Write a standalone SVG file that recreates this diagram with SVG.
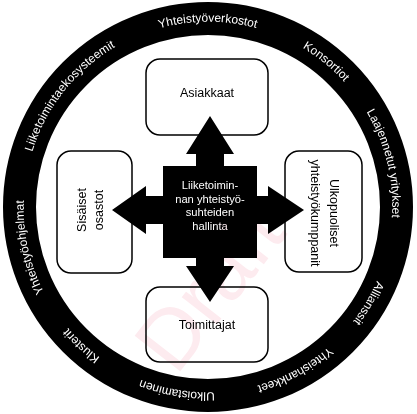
<svg xmlns="http://www.w3.org/2000/svg" width="417" height="414" viewBox="0 0 417 414">
<style>
.ring-t{font-family:"Liberation Sans",Arial,sans-serif;font-size:12px;fill:#fff;}
.box{fill:none;stroke:#000;stroke-width:1.5;}
.lbl{font-family:"Liberation Sans",Arial,sans-serif;font-size:12.5px;fill:#000;text-anchor:middle;}
.ctr{font-family:"Liberation Sans",Arial,sans-serif;font-size:11.2px;fill:#fff;text-anchor:middle;}
.wm{font-family:"Liberation Sans",Arial,sans-serif;font-size:84px;fill:#fdebef;text-anchor:middle;mix-blend-mode:multiply;}
</style>
<defs>
<path id="circ" d="M389.2,238.95 A184,184 0 1,1 26.8,175.05 A184,184 0 1,1 389.2,238.95"/>
</defs>
<rect width="417" height="414" fill="#fff"/>
<g id="ring">
<circle cx="208" cy="207" r="188.5" fill="none" stroke="#000" stroke-width="33"/>
<text class="ring-t" text-anchor="middle"><textPath href="#circ" startOffset="67.4">Allianssit</textPath></text>
<text class="ring-t" text-anchor="middle"><textPath href="#circ" startOffset="167">Yhteishankkeet</textPath></text>
<text class="ring-t" text-anchor="middle"><textPath href="#circ" startOffset="289">Ulkoistaminen</textPath></text>
<text class="ring-t" text-anchor="middle"><textPath href="#circ" startOffset="395">Klusterit</textPath></text>
<text class="ring-t" text-anchor="middle"><textPath href="#circ" startOffset="507.4">Yhteistyöohjelmat</textPath></text>
<text class="ring-t" text-anchor="middle"><textPath href="#circ" startOffset="672.8">Liiketoimintaekosysteemit</textPath></text>
<text class="ring-t" text-anchor="middle"><textPath href="#circ" startOffset="838.2">Yhteistyöverkostot</textPath></text>
<text class="ring-t" text-anchor="middle"><textPath href="#circ" startOffset="964.7">Konsortiot</textPath></text>
<text class="ring-t" text-anchor="middle"><textPath href="#circ" startOffset="1084.2">Laajennetut yritykset</textPath></text>
</g>
<g id="asiakkaat">
<rect class="box" x="146" y="59" width="122" height="76" rx="14"/>
<text class="lbl" x="207" y="97">Asiakkaat</text>
</g>
<g id="toimittajat">
<rect class="box" x="146" y="287" width="122" height="75" rx="14"/>
<text class="lbl" x="207" y="329">Toimittajat</text>
</g>
<g id="sisaiset">
<rect class="box" x="57" y="151" width="75" height="122" rx="14"/>
<text class="lbl" transform="translate(86,210) rotate(-90)"><tspan x="0" y="0">Sisäiset</tspan><tspan x="0" dy="17">osastot</tspan></text>
</g>
<g id="ulkopuoliset">
<rect class="box" x="285" y="151" width="77" height="121" rx="14"/>
<text class="lbl" transform="translate(330,213) rotate(90)"><tspan x="0" y="0">Ulkopuoliset</tspan><tspan x="0" dy="19">yhteistyökumppanit</tspan></text>
</g>
<g id="connectors">
<path d="M210,116 L234,154 L224,154 L224,166 L257,166 L257,196 L268,196 L268,186 L304,210 L268,234 L268,224 L257,224 L257,258 L224,258 L224,266 L234,266 L210,302 L186,266 L196,266 L196,258 L163,258 L163,224 L146,224 L146,234 L112,210 L146,186 L146,196 L163,196 L163,166 L196,166 L196,154 L186,154 Z" fill="#000"/>
</g>
<g id="hallinta">
<text class="ctr"><tspan x="210" y="189">Liiketoimin-</tspan><tspan x="210" y="202.5">nan yhteistyö-</tspan><tspan x="210" y="216">suhteiden</tspan><tspan x="210" y="229.5">hallinta</tspan></text>
</g>
<g id="watermark">
<text class="wm" transform="translate(232,305) rotate(-52)">Draft</text>
</g>
</svg>
